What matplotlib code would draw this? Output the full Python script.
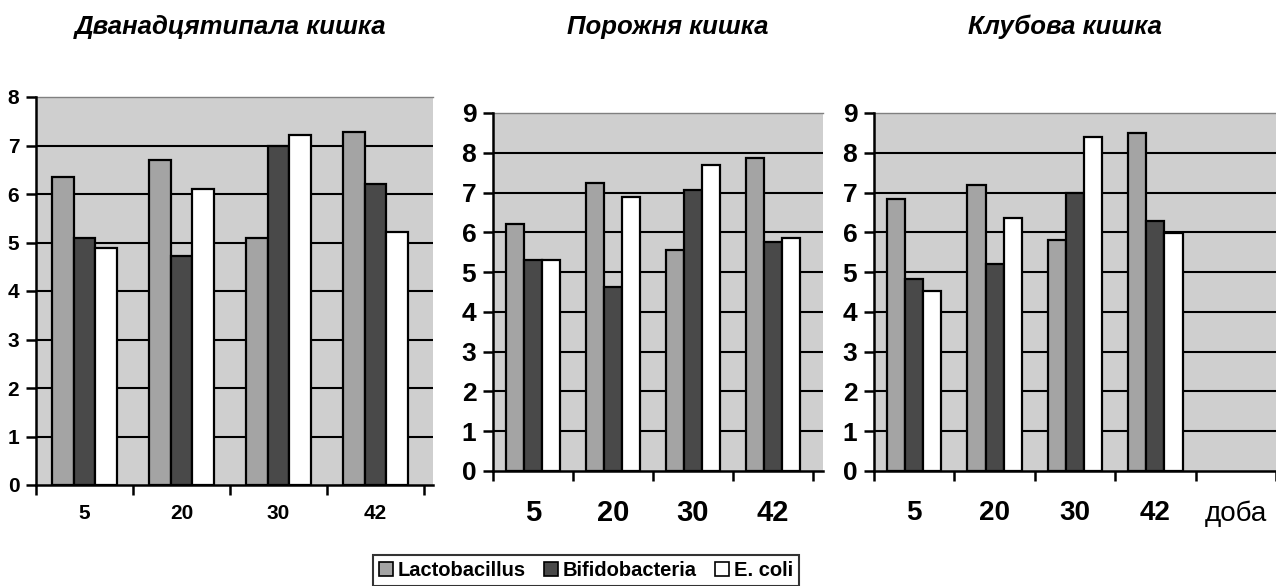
import matplotlib
matplotlib.use('Agg')
import matplotlib.pyplot as plt
from matplotlib.patches import Patch
import numpy as np

plt.rcParams['font.family'] = ['Liberation Sans', 'DejaVu Sans']

days = ['5', '20', '30', '42']
series = ['Lactobacillus', 'Bifidobacteria', 'E. coli']
colors = ['#a4a4a4', '#494949', '#ffffff']

titles = ['Дванадцятипала кишка', 'Порожня кишка', 'Клубова кишка']

# duodenum
duo_lacto = [6.35, 6.7, 5.1, 7.27]
duo_bifido = [5.1, 4.72, 7.0, 6.2]
duo_ecoli = [4.88, 6.1, 7.22, 5.22]
# jejunum
jej_lacto = [6.2, 7.25, 5.55, 7.87]
jej_bifido = [5.3, 4.63, 7.07, 5.75]
jej_ecoli = [5.3, 6.9, 7.7, 5.87]
# ileum
ile_lacto = [6.83, 7.18, 5.8, 8.5]
ile_bifido = [4.82, 5.2, 7.0, 6.28]
ile_ecoli = [4.52, 6.35, 8.4, 5.98]

panels = [
    ([duo_lacto, duo_bifido, duo_ecoli], 8),
    ([jej_lacto, jej_bifido, jej_ecoli], 9),
    ([ile_lacto, ile_bifido, ile_ecoli], 9),
]

W, H = 1276, 586
fig = plt.figure(figsize=(W / 100, H / 100), dpi=100)

# [left, right, bottom, top] in pixels
boxes = [(36, 433, 485, 97), (493, 823, 471, 113), (874, 1276, 471, 113)]
ncats = [4, 4, 5]
cat_px = [97, 80, 81]
tick_fs = [15, 19, 19]
xlab_fs = [15, 21, 20]
xpad = [14, 20, 21]

bw = 0.225
for i, ((vals, ymax), (l, r, b, t)) in enumerate(zip(panels, boxes)):
    ax = fig.add_axes([l / W, 1 - b / H, (r - l) / W, (b - t) / H])
    ax.set_facecolor('#cfcfcf')
    x = np.arange(len(days))
    for k, v in enumerate(vals):
        ax.bar(x + (k - 1) * bw, v, bw, color=colors[k], edgecolor='black',
               linewidth=1.6, zorder=3)
    for yv in range(1, ymax):
        ax.axhline(yv, color='black', lw=1.5, zorder=1)
    ax.set_ylim(0, ymax)
    xmax = -0.5 + (r - l) / cat_px[i]
    ax.set_xlim(-0.5, xmax)
    ax.set_yticks(range(0, ymax + 1))
    ax.set_yticklabels([str(v) for v in range(0, ymax + 1)],
                       fontsize=tick_fs[i], fontweight='bold')
    ax.tick_params(axis='y', length=7, width=1.8, pad=5)
    ax.set_xticks(np.arange(ncats[i] + 1) - 0.5)
    ax.set_xticklabels([])
    ax.tick_params(axis='x', which='major', length=7, width=1.8)
    labs = days + (['доба'] if ncats[i] == 5 else [])
    ax.set_xticks(np.arange(len(labs)), minor=True)
    ax.set_xticklabels(labs, minor=True, fontsize=xlab_fs[i], fontweight='bold')
    ax.tick_params(axis='x', which='minor', length=0, pad=xpad[i])
    if ncats[i] == 5:
        ax.get_xticklabels(minor=True)[-1].set_fontweight('normal')
    for s in ['left', 'bottom']:
        ax.spines[s].set_linewidth(1.8)
        ax.spines[s].set_color('black')
    ax.spines['top'].set_color('#808080')
    ax.spines['top'].set_linewidth(1.0)
    ax.spines['right'].set_visible(False)
    ax.spines['left'].set_zorder(4)
    ax.spines['bottom'].set_zorder(4)

title_x = [231, 668, 1065]
for tx, tt in zip(title_x, titles):
    fig.text(tx / W, 1 - 27 / H, tt, ha='center', va='center', fontsize=18.5,
             fontweight='bold', fontstyle='italic')

handles = [Patch(facecolor=c, edgecolor='black', linewidth=1.2) for c in colors]
leg = fig.legend(handles, series, loc='lower center',
                 bbox_to_anchor=(586 / W, 0), ncol=3, frameon=True,
                 fancybox=False, edgecolor='black',
                 prop={'weight': 'bold', 'size': 14.5},
                 handlelength=0.7, handleheight=0.7, handletextpad=0.25,
                 columnspacing=0.9, borderpad=0.3, borderaxespad=0)
leg.get_frame().set_linewidth(1.5)

fig.savefig('out.png', dpi=100)
